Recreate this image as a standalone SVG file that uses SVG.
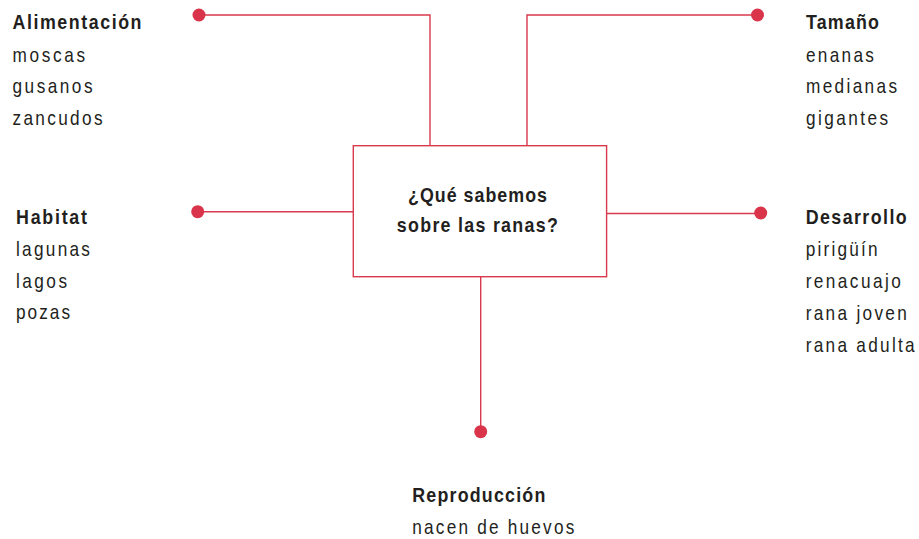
<svg xmlns="http://www.w3.org/2000/svg" width="919" height="539" viewBox="0 0 919 539">
<style>
  text { font-family: "Liberation Sans", Arial, sans-serif; font-size: 21px; fill: #231f20; }
  .h { font-weight: bold; }
  .c { text-anchor: middle; }
  .ln { fill: none; stroke: #d9394c; stroke-width: 1.4; }
  .dot { fill: #d9344a; }
  .box { fill: #ffffff; stroke: #d9394c; stroke-width: 1.4; }
</style>
<rect width="919" height="539" fill="#ffffff"/>
<g id="connectors">
  <polyline class="ln" points="199,15 430,15 430,146"/>
  <polyline class="ln" points="757,15 527,15 527,146"/>
  <line class="ln" x1="198" y1="211.7" x2="353" y2="211.7"/>
  <line class="ln" x1="606.5" y1="213.5" x2="761" y2="213.5"/>
  <line class="ln" x1="480.7" y1="276.5" x2="480.7" y2="432"/>
  <circle class="dot" cx="199" cy="15" r="6.5"/>
  <circle class="dot" cx="757.5" cy="15" r="6.5"/>
  <circle class="dot" cx="197.7" cy="211.7" r="6.5"/>
  <circle class="dot" cx="760.7" cy="213" r="6.5"/>
  <circle class="dot" cx="480.7" cy="431.7" r="6.5"/>
</g>
<g id="center">
  <rect class="box" x="353.3" y="145.7" width="253.3" height="131"/>
  <text class="h c" transform="translate(477.5 201.7) scale(0.85 1)" textLength="163.5" lengthAdjust="spacing">¿Qué sabemos</text>
  <text class="h c" transform="translate(477.3 232.3) scale(0.85 1)" textLength="189.4" lengthAdjust="spacing">sobre las ranas?</text>
</g>
<g id="alimentacion">
  <text class="h" transform="translate(12.5 29.3) scale(0.85 1)" textLength="151.8" lengthAdjust="spacing">Alimentación</text>
  <text transform="translate(12.5 61.7) scale(0.82 1)" textLength="88.4" lengthAdjust="spacing">moscas</text>
  <text transform="translate(12.5 93.3) scale(0.82 1)" textLength="97.6" lengthAdjust="spacing">gusanos</text>
  <text transform="translate(12.5 125) scale(0.82 1)" textLength="109.8" lengthAdjust="spacing">zancudos</text>
</g>
<g id="tamano">
  <text class="h" transform="translate(806 29.3) scale(0.85 1)" textLength="85.9" lengthAdjust="spacing">Tamaño</text>
  <text transform="translate(806 61.7) scale(0.82 1)" textLength="82.9" lengthAdjust="spacing">enanas</text>
  <text transform="translate(806 93.3) scale(0.82 1)" textLength="111" lengthAdjust="spacing">medianas</text>
  <text transform="translate(806 125) scale(0.82 1)" textLength="100" lengthAdjust="spacing">gigantes</text>
</g>
<g id="habitat">
  <text class="h" transform="translate(16 224) scale(0.85 1)" textLength="83.5" lengthAdjust="spacing">Habitat</text>
  <text transform="translate(16 255.7) scale(0.82 1)" textLength="90.2" lengthAdjust="spacing">lagunas</text>
  <text transform="translate(16 287.7) scale(0.82 1)" textLength="62.2" lengthAdjust="spacing">lagos</text>
  <text transform="translate(16 319.3) scale(0.82 1)" textLength="65.9" lengthAdjust="spacing">pozas</text>
</g>
<g id="desarrollo">
  <text class="h" transform="translate(805.7 224.3) scale(0.85 1)" textLength="118.8" lengthAdjust="spacing">Desarrollo</text>
  <text transform="translate(805.7 255.7) scale(0.82 1)" textLength="87.8" lengthAdjust="spacing">pirigüín</text>
  <text transform="translate(805.7 287.7) scale(0.82 1)" textLength="115.9" lengthAdjust="spacing">renacuajo</text>
  <text transform="translate(805.7 320) scale(0.82 1)" textLength="123.2" lengthAdjust="spacing">rana joven</text>
  <text transform="translate(805.7 351.7) scale(0.82 1)" textLength="132.9" lengthAdjust="spacing">rana adulta</text>
</g>
<g id="reproduccion">
  <text class="h" transform="translate(412.3 502.3) scale(0.85 1)" textLength="156.5" lengthAdjust="spacing">Reproducción</text>
  <text transform="translate(412.3 533.5) scale(0.82 1)" textLength="197.6" lengthAdjust="spacing">nacen de huevos</text>
</g>
</svg>
